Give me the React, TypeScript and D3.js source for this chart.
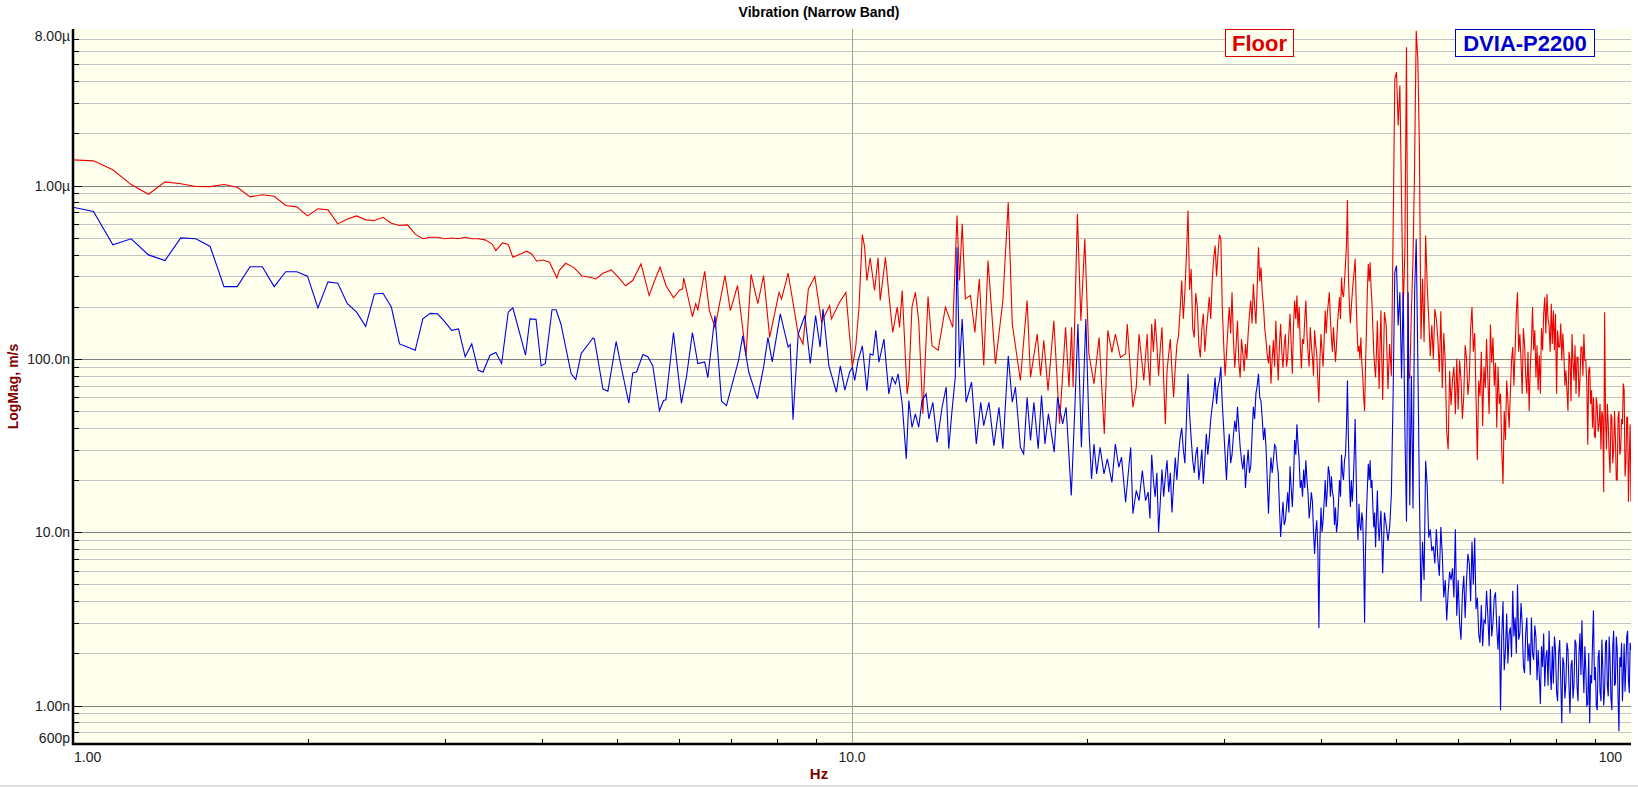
import * as d3 from "d3";

const WIDTH = 1638;
const HEIGHT = 788;
const plot = { left: 73, right: 1631, top: 29, bottom: 744 };

// velocity in nm/s
// 1–24 Hz: [Hz, nm/s] turning points
const floorLow: [number, number][] = [
  [1.0, 1406], [1.0625, 1388], [1.125, 1232], [1.1875, 1013], [1.25, 891], [1.3125, 1050], [1.375, 1023],
  [1.4375, 987], [1.5, 986], [1.5625, 1013], [1.625, 978], [1.6875, 860], [1.75, 884], [1.8125, 867],
  [1.875, 767], [1.9375, 753], [2.0, 668], [2.0625, 734], [2.125, 724], [2.1875, 601], [2.25, 642],
  [2.3125, 668], [2.375, 634], [2.4375, 628], [2.5, 656], [2.5625, 606], [2.625, 588], [2.6875, 593],
  [2.75, 524], [2.8125, 493], [2.875, 503], [2.9375, 503], [3.0, 493], [3.0625, 498], [3.125, 493],
  [3.1875, 503], [3.25, 493], [3.3125, 493],
  [3.38, 486], [3.45, 461], [3.49, 422], [3.56, 467], [3.62, 457], [3.67, 386], [3.74, 400], [3.82, 418],
  [3.88, 403], [3.94, 366], [4.01, 372], [4.09, 361], [4.18, 293], [4.21, 324], [4.29, 356], [4.4, 335],
  [4.5, 301], [4.61, 296], [4.69, 289], [4.79, 312], [4.91, 326], [5.01, 296], [5.12, 264], [5.23, 283],
  [5.36, 353], [5.49, 232], [5.58, 283], [5.67, 338], [5.77, 265], [5.9, 225], [6.01, 250], [6.06, 253],
  [6.08, 293], [6.24, 175], [6.3, 208], [6.34, 192], [6.47, 320], [6.56, 190], [6.67, 152], [6.87, 302],
  [6.98, 190], [7.13, 265], [7.31, 104], [7.42, 307], [7.57, 208], [7.7, 302], [7.84, 133], [8.06, 242],
  [8.12, 222], [8.28, 312], [8.53, 139], [8.65, 122], [8.79, 253], [8.96, 299], [9.14, 163], [9.36, 203],
  [9.41, 170], [9.64, 212], [9.82, 242],
  [10.01, 89.5], [10.11, 117], [10.21, 199], [10.31, 522], [10.38, 441], [10.45, 283], [10.55, 383],
  [10.69, 248], [10.8, 383], [10.87, 217], [11.04, 386], [11.15, 237], [11.28, 142], [11.43, 199],
  [11.51, 152], [11.6, 248], [11.77, 62.8], [11.83, 75], [11.94, 199], [12.06, 242], [12.18, 166],
  [12.33, 48.2], [12.52, 229], [12.67, 119], [12.9, 112], [13.18, 199], [13.47, 152], [13.64, 671],
  [13.74, 283], [13.85, 601], [13.98, 222], [14.19, 232], [14.38, 142], [14.57, 289], [14.76, 91.5],
  [14.95, 369], [15.28, 93.6], [15.62, 217], [15.87, 801], [16.06, 159], [16.21, 119], [16.45, 75],
  [16.78, 217], [16.95, 78.4], [17.29, 139], [17.46, 80], [17.63, 128], [17.85, 65.6], [18.16, 166],
  [18.47, 42.2], [18.8, 152], [18.99, 68.7], [19.14, 152], [19.22, 68.7], [19.47, 686], [19.67, 166],
  [19.9, 492], [20.14, 107], [20.45, 71.8], [20.76, 133], [21.08, 36.9], [21.3, 146], [21.56, 109],
  [21.78, 139], [22.11, 102], [22.45, 107], [22.56, 159], [22.94, 52.6], [23.17, 68.7], [23.36, 139],
  [23.69, 75], [23.93, 139],
];

const dviaLow: [number, number][] = [
  [1.0, 750], [1.0625, 708], [1.125, 455], [1.1875, 493], [1.25, 398], [1.3125, 369], [1.375, 499],
  [1.4375, 493], [1.5, 445], [1.5625, 261], [1.625, 261], [1.6875, 340], [1.75, 340], [1.8125, 261],
  [1.875, 318], [1.9375, 318], [2.0, 300], [2.0625, 197], [2.125, 278], [2.1875, 273], [2.25, 208],
  [2.3125, 186], [2.375, 154], [2.4375, 237], [2.5, 239], [2.5625, 199], [2.625, 122], [2.6875, 117],
  [2.75, 112], [2.8125, 170], [2.875, 183], [2.9375, 182], [3.0, 164], [3.0625, 146], [3.125, 149],
  [3.1875, 103], [3.25, 122], [3.3125, 86],
  [3.36, 84], [3.43, 105], [3.49, 109], [3.55, 94], [3.62, 186], [3.67, 197], [3.81, 105], [3.86, 170],
  [3.93, 169], [3.99, 91], [4.04, 94], [4.12, 192], [4.17, 192], [4.23, 159], [4.36, 82], [4.42, 76],
  [4.49, 107], [4.65, 132], [4.67, 130], [4.79, 67], [4.86, 65], [4.98, 126], [5.06, 88], [5.17, 55.5],
  [5.23, 83], [5.29, 84], [5.39, 106], [5.47, 103], [5.55, 91], [5.66, 50.3], [5.73, 57.5], [5.77, 58],
  [5.9, 142], [6.04, 55.5], [6.13, 78.4], [6.24, 142], [6.34, 94], [6.47, 96], [6.53, 78], [6.67, 178],
  [6.8, 57], [6.9, 53.8], [7.15, 97.8], [7.24, 136], [7.37, 84], [7.56, 58.8], [7.7, 89.5], [7.8, 133],
  [7.9, 96], [8.09, 182], [8.28, 117], [8.33, 121], [8.4, 44.5], [8.53, 139], [8.7, 178], [8.84, 94],
  [8.98, 178], [9.1, 117], [9.18, 194], [9.34, 91], [9.55, 64.2], [9.66, 91], [9.79, 66],
  [9.93, 83.8], [10.01, 89.5], [10.08, 75], [10.18, 97.8], [10.31, 119], [10.45, 65.6], [10.55, 107],
  [10.64, 105], [10.73, 146], [10.83, 95.7], [10.99, 130], [11.15, 62.8], [11.26, 78.4], [11.37, 71.8],
  [11.46, 81.9], [11.6, 55], [11.74, 26.5], [11.83, 57.5], [11.94, 40.3], [12.06, 48.2], [12.18, 40.3],
  [12.3, 57.5], [12.45, 62.8], [12.55, 45], [12.7, 56.2], [12.86, 33], [13.05, 52.6], [13.21, 68.7],
  [13.31, 30.3], [13.44, 50.3], [13.57, 78.4], [13.64, 441], [13.74, 89.5], [13.85, 170], [14.01, 56.2],
  [14.24, 73.4], [14.44, 32.3], [14.63, 56.2], [14.76, 41.2], [14.99, 56.2], [15.21, 31.6], [15.44, 52.6],
  [15.62, 30.3], [15.87, 104], [16.06, 56.2], [16.21, 68.7], [16.37, 40.3], [16.45, 30.9], [16.61, 28.3],
  [16.78, 60.1], [16.95, 33.8], [17.12, 56.2], [17.34, 30.3], [17.51, 61.4], [17.69, 32.3], [17.87, 48.2],
  [18.18, 29], [18.36, 60.1], [18.64, 42.2], [18.83, 52.6], [19.12, 16.3], [19.31, 48.2], [19.5, 159],
  [19.7, 30.9], [19.96, 170], [20.16, 36.9], [20.3, 20.3], [20.45, 32.3], [20.61, 21.7], [20.82, 30.9],
  [21.06, 21.7], [21.27, 26.5], [21.56, 19.4], [21.78, 32.3], [22.0, 23.7], [22.18, 27.1], [22.45, 14.9],
  [22.79, 30.9], [22.94, 12.8], [23.17, 17.4], [23.36, 15.2], [23.59, 22.7], [23.81, 15.2],
];

// 24–47.875 Hz in 0.125 Hz steps
const bandAStart = 24;
const bandAStep = 0.125;
const floorBandA = [
  96, 70, 159, 110, 170, 120, 80, 115, 152, 75, 42, 85, 107, 130, 84, 60,
  89, 120, 136, 190, 283, 170, 242, 400, 718, 250, 330, 150, 133, 240, 199, 120,
  102, 150, 182, 110, 146, 180, 227, 170, 283, 380, 451, 300, 404, 520, 493, 200,
  122, 80, 107, 150, 199, 140, 242, 130, 89, 120, 166, 95, 78, 130, 107, 85,
  122, 100, 139, 180, 217, 160, 271, 200, 159, 260, 441, 280, 337, 240, 199, 150,
  128, 105, 94, 120, 72, 100, 128, 90, 166, 110, 75, 120, 159, 110, 89, 120,
  139, 90, 102, 140, 182, 120, 82, 150, 217, 170, 232, 150, 200, 120, 88, 130,
  122, 170, 217, 140, 107, 90, 152, 120, 102, 80, 146, 120, 107, 75, 56, 100,
  139, 110, 90, 130, 190, 140, 182, 210, 242, 170, 133, 110, 152, 120, 96, 120,
  159, 190, 227, 170, 296, 240, 227, 280, 353, 450, 826, 300, 208, 160, 199, 240,
  283, 320, 378, 220, 146, 110, 119, 100, 133, 95, 80, 60, 50, 90, 146, 250,
  353, 280, 361, 260, 212, 150, 109, 90, 78, 110, 166, 100, 67, 120, 190, 100,
];
const dviaBandA = [
  17, 12, 28, 20, 16, 22, 10, 15, 23, 16, 21, 26, 17, 22, 13, 19,
  27, 20, 28, 35, 40, 30, 25, 45, 82, 48, 35, 26, 22, 28, 31, 20,
  24, 30, 19, 26, 37, 28, 35, 45, 53, 62, 78, 55, 69, 75, 90, 55,
  40, 28, 20, 30, 37, 25, 28, 36, 44, 38, 53, 40, 31, 26, 23, 28,
  18, 24, 30, 22, 24, 36, 53, 45, 63, 70, 82, 60, 57, 45, 34, 40,
  31, 20, 12.8, 20, 27, 22, 26, 32, 31, 25, 22, 14, 9.4, 12, 15, 11,
  11.7, 14, 17, 13, 24, 18, 14, 20, 34, 28, 42, 32, 26, 18, 20, 16,
  23, 18, 26, 20, 16.6, 12, 13.9, 17, 15, 10, 7.5, 10, 11.7, 8, 2.8, 9,
  13.9, 10, 11.7, 15, 20, 14, 17.4, 24, 22, 16, 21, 17, 15.9, 11, 13.9, 10,
  11.2, 15, 20, 16, 28, 22, 20, 26, 28, 40, 75, 35, 20, 14, 20, 15,
  19, 28, 45, 22, 11.7, 9, 14.6, 11, 10.2, 13, 11.7, 7, 3.0, 8, 12.8, 18,
  24.8, 20, 26, 18, 20, 14, 10.7, 13, 8.2, 12, 17.4, 11, 8.9, 11, 13.3, 9,
];

// 48–59.75 Hz in 0.25 Hz steps
const bandBStart = 48;
const bandBStep = 0.25;
const floorBandB = [
  58, 186, 156, 67, 122, 80, 515, 4125,
  4510, 2220, 3775, 838, 194, 412, 6280, 84,
  77, 186, 378, 1305, 7800, 5380, 1700, 130,
  290, 125, 515, 265, 170, 104, 156, 100,
  194, 170, 130, 84, 188, 68, 141, 95,
  38, 30, 85, 54, 76, 90, 48, 100,
];
const dviaBandB = [
  5.8, 13, 11, 8.9, 10.7, 16.6, 61, 316,
  345, 156, 242, 77, 242, 41, 11.5, 242,
  14.3, 80, 13.7, 242, 492, 100, 17, 4.0,
  8.8, 5.3, 25.8, 18.4, 9.3, 10.4, 7.8, 8.3,
  6.6, 10.4, 7.0, 5.6, 10.7, 7.4, 4.2, 5.3,
  3.1, 4.5, 5.9, 5.3, 6.2, 4.2, 10.4, 3.3,
];

// 60–100 Hz in 0.25 Hz steps
const bandCStart = 60;
const bandCStep = 0.25;
const floorBandC = [
  51, 98, 76, 45, 61, 120, 100, 62,
  76, 150, 199, 110, 141, 60, 26, 75,
  61, 110, 41, 90, 68, 130, 76, 48,
  158, 95, 133, 70, 95, 40, 90, 55,
  63, 30, 19, 50, 34, 75, 57, 40,
  63, 98, 117, 70, 112, 186, 242, 110,
  139, 98, 63, 150, 122, 80, 63, 110,
  50, 90, 122, 199, 112, 146, 78, 120,
  66, 105, 63, 150, 112, 182, 227, 140,
  237, 170, 156, 110, 208, 122, 190, 112,
  182, 63, 146, 117, 117, 160, 98, 140,
  107, 70, 86, 66, 50, 110, 98, 57,
  139, 95, 75, 120, 63, 102, 102, 60,
  75, 117, 117, 80, 139, 98, 98, 72,
  32, 86, 90, 55, 66, 40, 60, 36,
  35, 60, 53, 38, 42, 55, 30, 50,
  46, 17, 186, 46, 30, 55, 42, 28,
  22, 48, 46, 25, 30, 50, 35, 20,
  20, 46, 50, 28, 30, 45, 42, 72,
  66, 21, 25, 46, 46, 15, 27, 42,
  15,
];
const dviaBandC = [
  5.3, 3.0, 2.4, 4.4, 5.6, 3.2, 5.3, 7.5,
  6.6, 4.0, 8.8, 5.0, 9.3, 3.6, 4.2, 2.6,
  2.3, 3.8, 2.2, 3.1, 3.0, 4.6, 3.3, 2.2,
  4.7, 2.5, 3.0, 4.2, 4.5, 2.8, 2.1, 3.3,
  0.94, 2.5, 4.0, 1.6, 2.09, 3.4, 1.75, 2.6,
  2.83, 1.9, 4.6, 2.5, 3.22, 2.0, 5.0, 2.4,
  2.6, 3.9, 2.95, 1.7, 1.54, 2.6, 3.22, 1.8,
  2.28, 1.5, 3.22, 2.0, 1.83, 2.9, 2.49, 1.4,
  2.09, 1.5, 1.02, 2.2, 1.67, 2.6, 1.29, 1.9,
  2.09, 1.3, 2.7, 1.6, 1.23, 2.2, 1.34, 2.5,
  2.09, 1.2, 1.06, 2.0, 2.39, 1.4, 0.79, 1.9,
  1.75, 1.1, 1.34, 2.3, 2.09, 1.3, 0.9, 1.7,
  1.83, 1.1, 1.34, 2.4, 2.28, 1.3, 1.06, 2.0,
  2.61, 1.5, 3.1, 1.7, 1.18, 2.2, 1.6, 1.0,
  1.02, 2.0, 0.79, 1.5, 1.34, 2.3, 3.54, 1.4,
  1.67, 1.0, 0.94, 1.9, 2.09, 1.2, 1.06, 2.4,
  1.67, 1.0, 1.23, 2.3, 2.39, 1.3, 1.13, 2.5,
  1.83, 1.1, 0.94, 2.2, 2.7, 1.3, 1.34, 2.5,
  2.09, 1.1, 0.71, 1.9, 1.67, 2.3, 1.06, 1.5,
  2.28, 1.2, 1.67, 2.5, 2.7, 1.4, 1.18, 2.3,
  2.09,
];

const yLabelValues = [0.6, 1, 10, 100, 1000, 8000];
const yLabelText = ["600p", "1.00n", "10.0n", "100.0n", "1.00µ", "8.00µ"];
const xLabelValues = [1, 10, 100];
const xLabelText = ["1.00", "10.0", "100"];

const FONT = "'Liberation Sans', Arial, sans-serif";
const FLOOR_COLOR = "#ee0000";
const DVIA_COLOR = "#0000e6";

function onGrid(start: number, step: number, values: number[]): [number, number][] {
  return values.map((v, i) => [start + i * step, v]);
}

const floorSeries = [
  ...floorLow,
  ...onGrid(bandAStart, bandAStep, floorBandA),
  ...onGrid(bandBStart, bandBStep, floorBandB),
  ...onGrid(bandCStart, bandCStep, floorBandC),
];
const dviaSeries = [
  ...dviaLow,
  ...onGrid(bandAStart, bandAStep, dviaBandA),
  ...onGrid(bandBStart, bandBStep, dviaBandB),
  ...onGrid(bandCStart, bandCStep, dviaBandC),
];

export default function App() {
  const x = d3.scaleLog().domain([1, 100]).range([plot.left, plot.right]);
  const y = d3.scaleLog().domain([0.6, 8000]).range([plot.bottom, plot.top]);
  const line = d3
    .line<[number, number]>()
    .x((d) => x(d[0]))
    .y((d) => y(d[1]));

  const yGrid = y.ticks().filter((v) => v > 0.61 && v < 7999);
  const isDecade = (v: number) => Math.abs(Math.log10(v) - Math.round(Math.log10(v))) < 1e-9;
  const xMinor = x.ticks().filter((v) => !isDecade(v));

  return (
    <div style={{ position: "absolute", left: 0, top: 0 }}>
      <svg width={WIDTH} height={HEIGHT} style={{ display: "block", fontFamily: FONT }}>
        <rect width={WIDTH} height={HEIGHT} fill="#ffffff" />
        <defs>
          <clipPath id="plot-clip">
            <rect x={plot.left} y={plot.top} width={plot.right - plot.left} height={plot.bottom - plot.top} />
          </clipPath>
        </defs>
        <rect x={plot.left} y={plot.top} width={plot.right - plot.left} height={plot.bottom - plot.top} fill="#ffffee" />

        {yGrid.map((v) => (
          <line
            key={`gy${v}`}
            x1={plot.left}
            x2={plot.right}
            y1={Math.round(y(v)) + 0.5}
            y2={Math.round(y(v)) + 0.5}
            stroke={isDecade(v) ? "#808080" : "#c4c4c4"}
            strokeWidth={1}
          />
        ))}
        <line x1={Math.round(x(10)) + 0.5} x2={Math.round(x(10)) + 0.5} y1={plot.top} y2={plot.bottom} stroke="#a0a0a0" />

        <g clipPath="url(#plot-clip)" fill="none" strokeWidth={1.1} strokeLinejoin="miter">
          <path d={line(floorSeries) ?? ""} stroke={FLOOR_COLOR} />
          <path d={line(dviaSeries) ?? ""} stroke={DVIA_COLOR} />
        </g>

        {yGrid.map((v) => (
          <line
            key={`ty${v}`}
            x1={plot.left}
            x2={plot.left + (isDecade(v) ? 9 : 6)}
            y1={Math.round(y(v)) + 0.5}
            y2={Math.round(y(v)) + 0.5}
            stroke="#000"
          />
        ))}
        {xMinor.map((v) => (
          <line key={`tx${v}`} x1={Math.round(x(v)) + 0.5} x2={Math.round(x(v)) + 0.5} y1={plot.bottom} y2={plot.bottom - 5} stroke="#000" />
        ))}

        <line x1={plot.left} x2={plot.left} y1={plot.top} y2={plot.bottom + 1} stroke="#000" strokeWidth={2.5} />
        <line x1={plot.left - 1} x2={plot.right} y1={plot.bottom} y2={plot.bottom} stroke="#000" strokeWidth={2.5} />

        {yLabelValues.map((v, i) => (
          <text
            key={`ly${v}`}
            x={plot.left - 3}
            y={Math.min(738, Math.max(36, y(v)))}
            textAnchor="end"
            dominantBaseline="central"
            fontSize={14}
            fill="#222"
          >
            {yLabelText[i]}
          </text>
        ))}
        {xLabelValues.map((v, i) => (
          <text
            key={`lx${v}`}
            x={i === 0 ? x(v) + 1 : i === xLabelValues.length - 1 ? x(v) - 9 : x(v)}
            y={762}
            textAnchor={i === 0 ? "start" : i === xLabelValues.length - 1 ? "end" : "middle"}
            fontSize={14}
            fill="#222"
          >
            {xLabelText[i]}
          </text>
        ))}

        <text x={WIDTH / 2} y={17} textAnchor="middle" fontSize={14} fontWeight="bold" fill="#000">
          Vibration (Narrow Band)
        </text>
        <text x={WIDTH / 2} y={779} textAnchor="middle" fontSize={15} fontWeight="bold" fill="#800000">
          Hz
        </text>
        <text
          transform={`translate(13,${(plot.top + plot.bottom) / 2}) rotate(-90)`}
          textAnchor="middle"
          dominantBaseline="central"
          fontSize={14}
          fontWeight="bold"
          fill="#800000"
        >
          LogMag, m/s
        </text>

        <rect x={1225.5} y={29.5} width={68} height={27} fill="#ffffee" stroke="#dd0000" />
        <text x={1259.5} y={51} textAnchor="middle" fontSize={22} fontWeight="bold" fill="#dd0000">
          Floor
        </text>
        <rect x={1455.5} y={29.5} width={139} height={27} fill="#ffffee" stroke="#0000cc" />
        <text x={1525} y={51} textAnchor="middle" fontSize={22} fontWeight="bold" fill="#0000cc">
          DVIA-P2200
        </text>

        <line x1={0} x2={WIDTH} y1={786} y2={786} stroke="#e0e0e0" strokeWidth={2} />
      </svg>
    </div>
  );
}
